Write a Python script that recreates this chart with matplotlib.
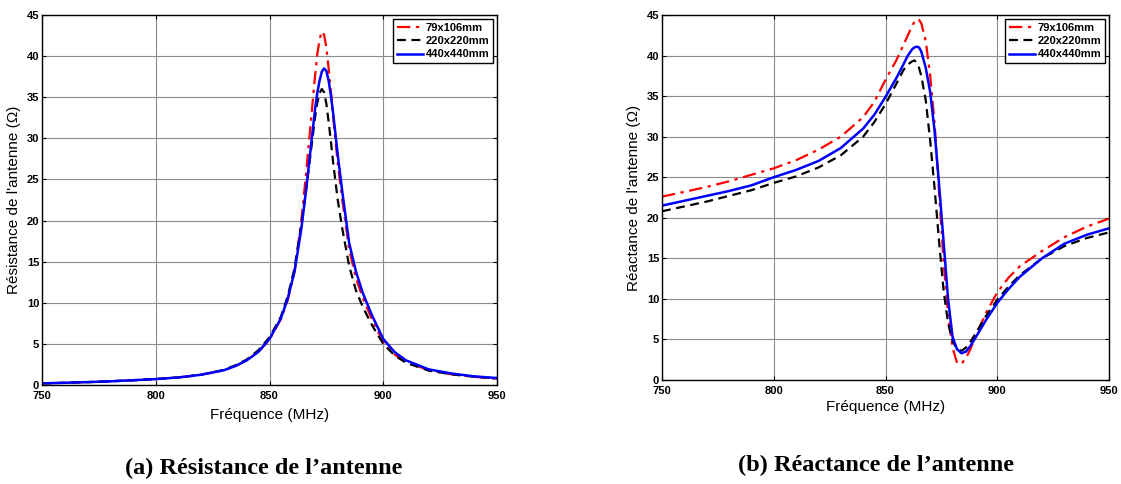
import numpy as np
import matplotlib
matplotlib.use('Agg')
import matplotlib.pyplot as plt

# Series labels (antenna ground-plane sizes)
labels = ['79x106mm', '220x220mm', '440x440mm']

# Resistance curves (panel a)
freq_r = [750, 760, 770, 780, 790, 800, 810, 820, 830, 835, 840, 845, 850, 855, 858,
          861, 864, 866, 868, 870, 871, 872, 873, 874, 875, 876, 877, 878, 880, 882,
          885, 888, 891, 895, 900, 905, 910, 920, 930, 940, 950]
res_red = [0.2, 0.27, 0.35, 0.45, 0.58, 0.72, 0.92, 1.25, 1.8, 2.3, 3.0, 4.0, 5.5, 8.0, 10.3,
           13.8, 20.0, 25.5, 31.5, 37.5, 40.2, 42.0, 43.0, 42.6, 41.0, 38.5, 35.6, 32.5, 27.0, 22.5,
           16.5, 13.0, 10.6, 8.0, 5.2, 3.7, 2.8, 1.8, 1.3, 1.0, 0.75]
res_black = [0.2, 0.27, 0.35, 0.45, 0.58, 0.72, 0.92, 1.25, 1.85, 2.4, 3.1, 4.2, 5.8, 8.3, 10.8,
             14.2, 19.5, 23.5, 28.0, 32.5, 34.3, 35.5, 36.0, 35.6, 34.2, 32.0, 29.6, 27.0, 22.5, 19.0,
             14.5, 11.5, 9.5, 7.3, 5.0, 3.6, 2.7, 1.75, 1.3, 1.0, 0.8]
res_blue = [0.2, 0.27, 0.35, 0.45, 0.58, 0.72, 0.92, 1.25, 1.8, 2.3, 3.0, 4.0, 5.6, 8.1, 10.5,
            13.8, 19.0, 23.5, 28.5, 33.5, 35.5, 37.0, 38.1, 38.5, 38.2, 37.0, 35.2, 33.0, 28.0, 23.5,
            17.3, 13.8, 11.2, 8.5, 5.6, 4.0, 3.0, 1.9, 1.4, 1.05, 0.85]

# Reactance curves (panel b)
freq_x = [750, 760, 770, 780, 790, 800, 810, 820, 830, 840, 845, 850, 855, 858, 860,
          862, 863, 864, 865, 866, 868, 870, 872, 874, 876, 878, 880, 882, 884, 886,
          888, 890, 895, 900, 905, 910, 920, 930, 940, 950]
rea_red = [22.6, 23.2, 23.8, 24.5, 25.3, 26.1, 27.1, 28.4, 30.0, 32.4, 34.3, 37.0, 39.5, 41.3, 42.5,
           43.7, 44.2, 44.5, 44.4, 44.0, 41.8, 37.5, 31.5, 23.0, 14.5, 8.0, 4.0, 2.1, 2.0, 2.7,
           3.8, 5.2, 8.3, 10.8, 12.6, 14.0, 15.9, 17.6, 18.9, 19.9]
rea_black = [20.8, 21.4, 22.0, 22.7, 23.4, 24.3, 25.1, 26.2, 27.7, 30.0, 31.8, 34.0, 36.6, 38.2, 38.9,
             39.3, 39.4, 39.1, 38.5, 37.5, 34.5, 29.5, 23.5, 17.0, 11.0, 7.0, 4.8, 3.8, 3.6, 4.0,
             4.7, 5.6, 7.9, 9.9, 11.5, 12.9, 15.0, 16.5, 17.5, 18.2]
rea_blue = [21.5, 22.1, 22.7, 23.3, 24.0, 25.0, 25.9, 27.0, 28.6, 31.0, 32.7, 34.9, 37.3, 38.9, 40.0,
            40.8, 41.0, 41.1, 41.0, 40.5, 38.5, 35.5, 30.6, 24.0, 17.0, 10.0, 5.3, 3.8, 3.3, 3.5,
            4.2, 5.1, 7.4, 9.5, 11.2, 12.7, 15.0, 16.8, 17.9, 18.7]

styles = [dict(color='red', linestyle=(0, (6, 2.5, 1.5, 2.5)), linewidth=1.6),
          dict(color='black', linestyle=(0, (4, 2.5)), linewidth=1.6),
          dict(color='blue', linestyle='-', linewidth=1.8)]

sans = 'Liberation Sans'
fig = plt.figure(figsize=(11.21, 4.84), dpi=100)
ax1 = fig.add_axes([42 / 1121, 1 - 385 / 484, (497 - 42) / 1121, (385 - 15) / 484])
ax2 = fig.add_axes([662 / 1121, 1 - 380 / 484, (1109 - 662) / 1121, (380 - 15) / 484])

panels = [(ax1, freq_r, [res_red, res_black, res_blue], "Résistance de l'antenne (Ω)", 5),
          (ax2, freq_x, [rea_red, rea_black, rea_blue], "Réactance de l'antenne (Ω)", 3)]

for ax, f, series, ylab, xpad in panels:
    for y, lab, st in zip(series, labels, styles):
        ax.plot(f, y, label=lab, **st)
    ax.set_xlim(750, 950)
    ax.set_ylim(0, 45)
    ax.set_xticks([750, 800, 850, 900, 950])
    ax.set_yticks(np.arange(0, 46, 5))
    ax.grid(True, color='#8c8c8c', linewidth=0.8)
    ax.set_axisbelow(True)
    ax.tick_params(direction='in', top=True, right=True, length=3, width=0.8)
    ax.tick_params(axis='x', pad=4)
    ax.tick_params(axis='y', pad=2)
    for lbl in ax.get_xticklabels() + ax.get_yticklabels():
        lbl.set_fontfamily(sans)
        lbl.set_fontweight('bold')
        lbl.set_fontsize(8)
    for sp in ax.spines.values():
        sp.set_linewidth(1.0)
    ax.set_xlabel('Fréquence (MHz)', fontfamily=sans, fontsize=11, labelpad=xpad)
    ax.set_ylabel(ylab, fontfamily=sans, fontsize=11, labelpad=4)
    leg = ax.legend(loc='upper right', prop={'family': sans, 'weight': 'bold', 'size': 8},
                    fancybox=False, edgecolor='black', framealpha=1, borderaxespad=0.35,
                    handlelength=2.4, handletextpad=0.2, labelspacing=0.3, borderpad=0.35)
    leg.get_frame().set_linewidth(1.0)

fig.text(264 / 1121, 1 - 468 / 484, '(a) Résistance de l’antenne', ha='center', va='center',
         fontfamily='Liberation Serif', fontweight='bold', fontsize=17.5)
fig.text(876 / 1121, 1 - 465 / 484, '(b) Réactance de l’antenne', ha='center', va='center',
         fontfamily='Liberation Serif', fontweight='bold', fontsize=17.5)

fig.savefig('out.png', dpi=100)
